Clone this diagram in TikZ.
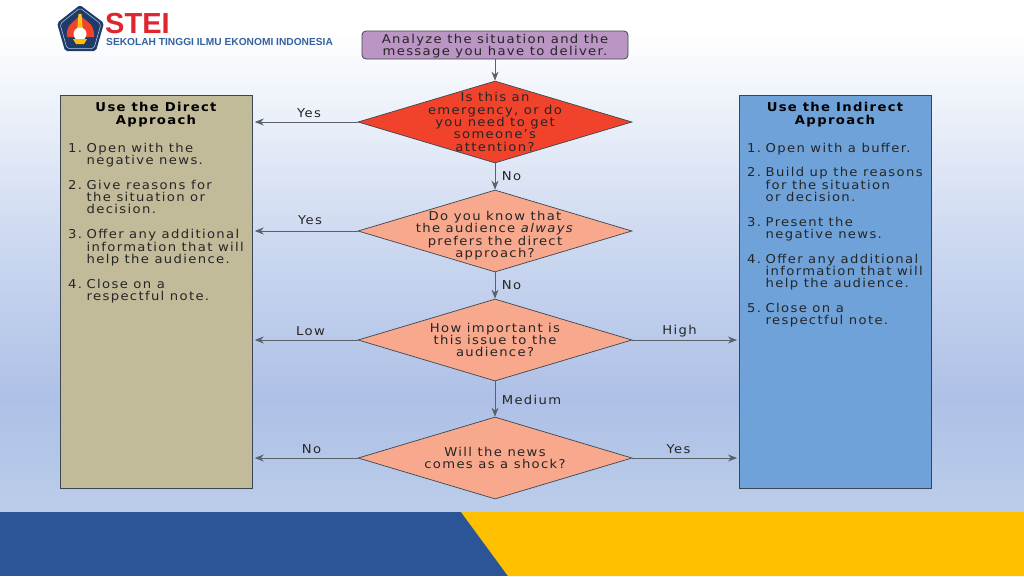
\documentclass[tikz,border=0pt]{standalone}
\usepackage{fontspec}
\setmainfont[LetterSpace=11,FakeStretch=1.08]{DejaVu Sans}
\newfontfamily\logofont{Liberation Sans}
\usetikzlibrary{shapes.geometric,arrows.meta}
\definecolor{bgtop}{HTML}{FFFFFF}
\definecolor{bgmid}{HTML}{AEC0E6}
\definecolor{bgend}{HTML}{BACCE9}
\definecolor{bgup}{HTML}{C9D6EF}
\definecolor{bgpale}{HTML}{EEF2FA}
\definecolor{deepblue}{HTML}{2C5597}
\definecolor{sun}{HTML}{FFC000}
\definecolor{edge}{HTML}{3C4650}
\definecolor{tan}{HTML}{C1BB9A}
\definecolor{sky}{HTML}{6FA2D9}
\definecolor{plum}{HTML}{BB95C4}
\definecolor{alarm}{HTML}{F1432C}
\definecolor{salmon}{HTML}{F8A88C}
\definecolor{stred}{HTML}{E0252F}
\definecolor{stblue}{HTML}{35629F}
\pgfdeclareverticalshading{pagebg}{100bp}{color(0bp)=(bgend); color(26bp)=(bgend); color(36bp)=(bgmid); color(50bp)=(bgup); color(65bp)=(bgpale); color(72bp)=(bgtop); color(100bp)=(bgtop)}
\newcommand{\bodyfont}{\fontsize{12.2}{12.4}\selectfont}
\setlength{\normallineskiplimit}{-20pt}
\setlength{\lineskiplimit}{-20pt}
\tikzset{
  dia/.style={diamond,draw=edge,line width=.7pt,aspect=3.34,minimum width=274pt,minimum height=82pt,inner sep=0pt},
  diatext/.style={align=center,font=\bodyfont,text=black!85,inner sep=0pt},
  panel/.style={draw=edge,line width=.8pt,minimum width=#1,anchor=north west,inner sep=0pt},
  head/.style={align=center,font=\bodyfont\bfseries,inner sep=0pt,anchor=center},
  item/.style={align=left,anchor=north west,font=\bodyfont,text=black!85,inner sep=0pt},
  link/.style={draw=edge!85,line width=.7pt,-{Stealth[length=9pt,width=7pt]}},
  lab/.style={font=\bodyfont,text=black!85,inner sep=0pt,anchor=center}
}
\newcommand{\itm}[2]{\makebox[18.5pt][l]{#1.}\parbox[t]{165pt}{\raggedright\lineskiplimit=-20pt #2}}
\begin{document}
\begin{tikzpicture}[x=1pt,y=-1pt]
\useasboundingbox (0,0) rectangle (1024,576);
\shade[shading=pagebg] (0,0) rectangle (1024,512);
% footer
\fill[deepblue] (0,512) rectangle (1024,576);
\fill[sun] (461,512) -- (1024,512) -- (1024,576) -- (508,576) -- cycle;
% logo
\fill[deepblue!70!black,rounded corners=2pt] (80,5) -- (104,23) -- (96,51) -- (65,51) -- (57,23) -- cycle;
\draw[white!70!deepblue,line width=.5pt,rounded corners=2pt] (80,8) -- (101,24) -- (94,48.5) -- (67,48.5) -- (60,24) -- cycle;
\fill[alarm] (80,13) .. controls (82,22) and (95,20) .. (94,37) -- (67,37) .. controls (65,22) and (78,22) .. (80,13) -- cycle;
\fill[sun!90!white] (78.5,14) -- (81.5,14) -- (83,32) -- (77,32) -- cycle;
\fill[white] (80,34) circle (6.5);
\fill[sun] (73,39) -- (87,39) -- (84,44) -- (76,44) -- cycle;
\node[anchor=west,inner sep=0pt,text=stred] (st) at (105,23.5) {\logofont\fontsize{29}{29}\selectfont\bfseries STEI};
\node[anchor=west,inner sep=0pt,text=stblue] (sk) at (106,42) {\logofont\fontsize{10.2}{11}\selectfont\bfseries SEKOLAH TINGGI ILMU EKONOMI INDONESIA};
% panels
\node[panel=192.5pt,fill=tan,minimum height=393pt] (direct) at (59.5,95) {};
\node[panel=192pt,fill=sky,minimum height=393pt] (indirect) at (739,95) {};
\node[head] (dh) at (156,114.5) {Use the Direct\\Approach};
\node[head] (ih) at (835,114.5) {Use the Indirect\\Approach};
\node[item] (d1i) at (68,142.7) {\itm{1}{Open with the\\negative news.}};
\node[item] (d2i) at (68,179.7) {\itm{2}{Give reasons for\\the situation or\\decision.}};
\node[item] (d3i) at (68,229.2) {\itm{3}{Offer any additional\\information that will\\help the audience.}};
\node[item] (d4i) at (68,278.7) {\itm{4}{Close on a\\respectful note.}};
\node[item] (i1i) at (747,142.7) {\itm{1}{Open with a buffer.}};
\node[item] (i2i) at (747,167.2) {\itm{2}{Build up the reasons\\for the situation\\or decision.}};
\node[item] (i3i) at (747,216.7) {\itm{3}{Present the\\negative news.}};
\node[item] (i4i) at (747,253.7) {\itm{4}{Offer any additional\\information that will\\help the audience.}};
\node[item] (i5i) at (747,302.7) {\itm{5}{Close on a\\respectful note.}};
% start
\node[draw=edge,line width=.8pt,fill=plum,rounded corners=4pt,minimum width=266pt,minimum height=28pt,inner sep=0pt] (start) at (495,45) {};
\node[diatext] (startt) at (495,46) {Analyze the situation and the\\message you have to deliver.};
% decisions
\node[dia,fill=alarm] (q1) at (495,122) {};
\node[dia,fill=salmon] (q2) at (495,231) {};
\node[dia,fill=salmon] (q3) at (495,340) {};
\node[dia,fill=salmon] (q4) at (495,458) {};
\node[diatext] (q1t) at (495,122) {Is this an\\emergency, or do\\you need to get\\someone's\\attention?};
\node[diatext] (q2t) at (495,235.5) {Do you know that\\the audience \textit{always}\\prefers the direct\\approach?};
\node[diatext] (q3t) at (495,340) {How important is\\this issue to the\\audience?};
\node[diatext] (q4t) at (495,458) {Will the news\\comes as a shock?};
% connectors
\draw[link] (start) -- (q1);
\draw[link] (q1) -- (q2);
\draw[link] (q2) -- (q3);
\draw[link] (q3) -- (q4);
\draw[link] (q1.west) -- ([xshift=2pt]q1.west -| direct.east);
\draw[link] (q2.west) -- ([xshift=2pt]q2.west -| direct.east);
\draw[link] (q3.west) -- ([xshift=2pt]q3.west -| direct.east);
\draw[link] (q4.west) -- ([xshift=2pt]q4.west -| direct.east);
\draw[link] (q3.east) -- ([xshift=-2pt]q3.east -| indirect.west);
\draw[link] (q4.east) -- ([xshift=-2pt]q4.east -| indirect.west);
% labels
\node[lab] (l1) at (309,113.5) {Yes};
\node[lab] (l2) at (310,220.5) {Yes};
\node[lab] (l3) at (310.5,331) {Low};
\node[lab] (l4) at (311.5,449.5) {No};
\node[lab] (l5) at (679.5,331) {High};
\node[lab] (l6) at (678.5,449.5) {Yes};
\node[lab] (l7) at (511.5,176.5) {No};
\node[lab] (l8) at (511.5,285.5) {No};
\node[lab] (l9) at (531.5,399.5) {Medium};
\end{tikzpicture}
\end{document}
